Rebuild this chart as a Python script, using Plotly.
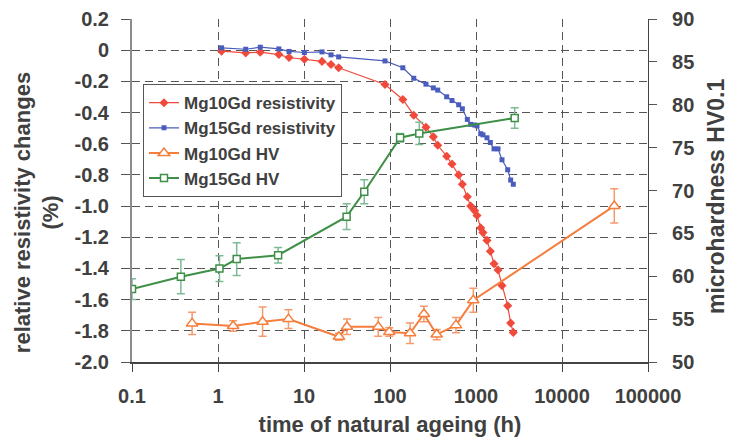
import plotly.graph_objects as go

# ---- data ----
res_time = [1.1, 2.1, 3.1, 5.1, 6.7, 10.1, 16.2, 20.6, 25.3, 87.5, 141, 189, 262, 319, 359,
            456, 526, 629, 694, 793, 868, 966, 1027, 1135, 1205, 1342, 1468, 1620, 1803,
            2006, 2337, 2530, 2715]
mg10_res = [-0.006, -0.017, -0.013, -0.028, -0.047, -0.058, -0.072, -0.092, -0.113, -0.22,
            -0.316, -0.417, -0.494, -0.556, -0.61, -0.68, -0.73, -0.80, -0.86, -0.94, -1.0,
            -1.03, -1.06, -1.14, -1.17, -1.22, -1.29, -1.37, -1.41, -1.51, -1.64, -1.75, -1.81]
mg15_res = [0.015, 0.006, 0.019, 0.008, -0.008, -0.015, -0.011, -0.03, -0.043, -0.069,
            -0.113, -0.18, -0.218, -0.242, -0.256, -0.299, -0.323, -0.35, -0.376, -0.444,
            -0.476, -0.48, -0.485, -0.536, -0.543, -0.562, -0.592, -0.633, -0.633, -0.703,
            -0.767, -0.833, -0.86]

hv10_time = [0.5, 1.5, 3.3, 6.6, 25.5, 31.6, 73, 98, 171, 248, 349, 585, 931, 40550]
hv10 = [54.5, 54.2, 54.7, 55.0, 52.95, 54.1, 54.1, 53.5, 53.35, 55.6, 53.2, 54.3, 57.2, 68.2]
hv10_err = [1.3, 0.6, 1.7, 1.1, 0.4, 0.9, 1.1, 0.5, 1.2, 0.9, 0.6, 0.9, 1.4, 2.0]

hv15_time = [0.1, 0.37, 1.04, 1.65, 5.0, 31.3, 50.2, 131, 219, 2818]
hv15 = [58.5, 59.95, 60.9, 62.0, 62.45, 66.95, 69.85, 76.15, 76.65, 78.45]
hv15_err = [1.2, 2.0, 1.5, 1.9, 0.9, 1.5, 1.4, 0.5, 1.3, 1.2]

x_ticks = [0.1, 1, 10, 100, 1000, 10000, 100000]
x_ticktext = ["0.1", "1", "10", "100", "1000", "10000", "100000"]
y_ticks = [0.2, 0, -0.2, -0.4, -0.6, -0.8, -1.0, -1.2, -1.4, -1.6, -1.8, -2.0]
y_ticktext = ["0.2", "0", "-0.2", "-0.4", "-0.6", "-0.8", "-1.0", "-1.2", "-1.4", "-1.6", "-1.8", "-2.0"]
y2_ticks = [50, 55, 60, 65, 70, 75, 80, 85, 90]

RED = "#f04a3c"
BLUE = "#4a5cbd"
ORANGE = "#f57e3d"
GREEN = "#3e8f47"
TXT = "#404040"
FONT = "Liberation Sans"

fig = go.Figure()
fig.add_trace(go.Scatter(x=res_time, y=mg10_res, name="Mg10Gd resistivity", mode="lines+markers",
                         line=dict(color=RED, width=1.2),
                         marker=dict(symbol="diamond", size=7, color=RED)))
fig.add_trace(go.Scatter(x=res_time, y=mg15_res, name="Mg15Gd resistivity", mode="lines+markers",
                         line=dict(color=BLUE, width=1.2),
                         marker=dict(symbol="square", size=5, color=BLUE)))
fig.add_trace(go.Scatter(x=hv10_time, y=hv10, name="Mg10Gd HV", mode="lines+markers", yaxis="y2",
                         line=dict(color=ORANGE, width=2),
                         marker=dict(symbol="triangle-up", size=10, color="white",
                                     line=dict(color=ORANGE, width=1.5)),
                         error_y=dict(type="data", array=hv10_err, visible=True,
                                      color="#f59a6c", thickness=1.5, width=4)))
fig.add_trace(go.Scatter(x=hv15_time, y=hv15, name="Mg15Gd HV", mode="lines+markers", yaxis="y2",
                         line=dict(color=GREEN, width=2),
                         marker=dict(symbol="square", size=7, color="white",
                                     line=dict(color=GREEN, width=1.5)),
                         error_y=dict(type="data", array=hv15_err, visible=True,
                                      color="#7dbb95", thickness=1.5, width=4)))

fig.update_layout(
    width=729, height=441,
    margin=dict(l=132, r=81, t=19, b=79, autoexpand=False),
    paper_bgcolor="white", plot_bgcolor="white",
    font=dict(family=FONT, color=TXT),
    showlegend=True,
    legend=dict(x=0.0213, y=0.81, xanchor="left", yanchor="top",
                bgcolor="white", bordercolor="#555555", borderwidth=1,
                font=dict(family=FONT, size=17, color=TXT, weight="bold"),
                tracegroupgap=0, itemwidth=30),
    xaxis=dict(type="log", range=[-1, 5], tickvals=x_ticks, ticktext=x_ticktext,
               automargin=False,
               showgrid=True, gridcolor="#555555", griddash="8px,5px", gridwidth=1,
               showline=True, linecolor="#444444", linewidth=1.5,
               ticks="outside", ticklen=8, tickcolor="#444444",
               ticklabelstandoff=7,
               tickfont=dict(family=FONT, size=20, color=TXT, weight="bold"),
               title=dict(text="time of natural ageing (h)", standoff=11,
                          font=dict(family=FONT, size=22, color=TXT, weight="bold")),
               zeroline=False),
    yaxis=dict(range=[-2.0, 0.2], tickvals=y_ticks, ticktext=y_ticktext,
               automargin=False,
               showgrid=True, gridcolor="#555555", griddash="8px,5px", gridwidth=1,
               showline=True, linecolor="#8c8c8c", linewidth=2,
               ticks="outside", ticklen=9, tickcolor="#555555",
               ticklabelstandoff=8,
               tickfont=dict(family=FONT, size=20, color=TXT, weight="bold"),
               zeroline=False),
    yaxis2=dict(range=[50, 90], tickvals=y2_ticks, overlaying="y", side="right",
                automargin=False,
                showgrid=False, showline=True, linecolor="#444444", linewidth=1.2,
                ticks="outside", ticklen=8, tickcolor="#555555",
                ticklabelstandoff=11,
                tickfont=dict(family=FONT, size=20, color=TXT, weight="bold"),
                zeroline=False),
    annotations=[
        dict(text="relative resistivity changes<br>(%)", textangle=-90,
             xref="paper", yref="paper", x=0, y=0.434, xanchor="center", yanchor="middle",
             xshift=-95, showarrow=False,
             font=dict(family=FONT, size=22, color=TXT, weight="bold")),
        dict(text="microhardness HV0.1", textangle=-90,
             xref="paper", yref="paper", x=1, y=0.481, xanchor="center", yanchor="middle",
             xshift=68, showarrow=False,
             font=dict(family=FONT, size=23, color=TXT, weight="bold")),
    ],
)

fig.write_html("out.html", config={"displayModeBar": False},
               post_script="document.body.style.margin='0';document.body.style.overflow='hidden';")
